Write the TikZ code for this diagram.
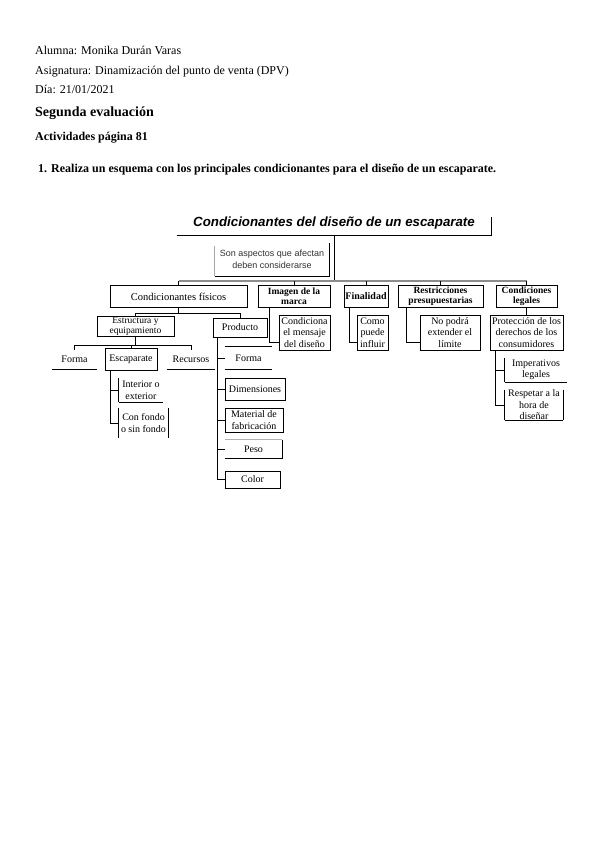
\documentclass[tikz,border=0pt]{standalone}
\usepackage{fontspec}
\setmainfont{Liberation Serif}
\newfontfamily\sansf{Liberation Sans}
\usetikzlibrary{calc}
\tikzset{
  box/.style={draw=black, line width=0.7pt, inner sep=0pt, align=center, font=\fontsize{10}{11.5}\selectfont},
  nobox/.style={inner sep=0pt, align=center, font=\fontsize{10}{11.5}\selectfont},
  topbox/.style={box, font=\fontsize{9.5}{10.2}\selectfont\bfseries},
  link/.style={line width=0.7pt},
  heavy/.style={line width=1.2pt},
  busline/.style={line width=1.8pt, black!45},
  hdr/.style={anchor=base west, inner sep=0pt, font=\fontsize{12}{14}\selectfont},
  hdrb/.style={hdr, font=\fontsize{12}{14}\selectfont\bfseries},
}
\begin{document}
\begin{tikzpicture}[x=1pt,y=-1pt]
\useasboundingbox (0,0) rectangle (600,848);
\fill[white] (0,0) rectangle (600,848);

% header
\node[hdr] (h1) at (35,55) {Alumna: Monika Durán Varas};
\node[hdr] (h2) at (35,75) {Asignatura: Dinamización del punto de venta (DPV)};
\node[hdr] (h3) at (35,94) {Día: 21/01/2021};
\node[hdr, font=\fontsize{14}{16}\selectfont\bfseries] (h4) at (35,117) {Segunda evaluación};
\node[hdrb] (h5) at (35,140) {Actividades página 81};
\node[hdrb] (q) at (38,172) {1. Realiza un esquema con los principales condicionantes para el diseño de un escaparate.};

% title and intro
\node[nobox, font=\sansf\bfseries\itshape\fontsize{13.3}{15}\selectfont, minimum width=314pt, minimum height=23pt] (title) at (334,223.5) {Condicionantes del diseño de un escaparate};
\draw[heavy] (title.south west) -- (title.south east) -- ([yshift=-5pt]title.north east);
\node[nobox, font=\sansf\fontsize{9}{11.5}\selectfont, text=black!80, minimum width=114pt, minimum height=33pt] (son) at (272,259.5) {Son aspectos que afectan\\deben considerarse};
\draw[heavy] (son.south west) -- (son.south east) -- (son.north east);
\draw[link, black!35] (son.south west) -- ([yshift=-3pt]son.north west);

% level 2
\node[box, font=\fontsize{10.5}{11}\selectfont, minimum width=137pt, minimum height=22pt] (fis) at (178.5,296.5) {Condicionantes físicos};
\node[topbox, minimum width=72pt, minimum height=22pt] (ima) at (294,296.5) {Imagen de la\\marca};
\node[topbox, font=\fontsize{10}{11}\selectfont\bfseries, minimum width=44pt, minimum height=22pt] (fin) at (366,296.5) {Finalidad};
\node[topbox, minimum width=85pt, minimum height=22pt] (res) at (440.5,296.5) {Restricciones\\presupuestarias};
\node[topbox, minimum width=61pt, minimum height=22pt] (leg) at (526.5,296.5) {Condiciones\\legales};

% level 3
\node[box, font=\fontsize{9.5}{10}\selectfont, minimum width=77pt, minimum height=20pt] (estr) at (135.5,326.5) {Estructura y\\equipamiento};
\node[box, minimum width=54pt, minimum height=19pt] (prod) at (240,327.5) {Producto};
\node[box, minimum width=51pt, minimum height=35pt] (cond) at (304.5,332.5) {Condiciona\\el mensaje\\del diseño};
\node[box, minimum width=31pt, minimum height=35pt] (como) at (372.5,332.5) {Como\\puede\\influir};
\node[box, minimum width=60pt, minimum height=35pt] (nop) at (450,332.5) {No podrá\\extender el\\límite};
\node[box, minimum width=73pt, minimum height=35pt] (prot) at (526.5,332.5) {Protección de los\\derechos de los\\consumidores};

% level 4 under Estructura
\node[nobox, minimum width=45pt, minimum height=19pt] (formaA) at (74.5,359.5) {Forma};
\draw[heavy] (formaA.south west) -- (formaA.south east);
\node[box, minimum width=52pt, minimum height=22pt] (esc) at (131,359) {Escaparate};
\node[nobox, minimum width=48pt, minimum height=19pt] (recu) at (191,359.5) {Recursos};
\draw[heavy] (recu.south west) -- (recu.south east);

% under Escaparate
\node[nobox, minimum width=44pt, minimum height=24pt] (inte) at (141,390) {Interior o\\exterior};
\draw[link] (inte.north west) -- (inte.south west);
\draw[heavy] (inte.south west) -- (inte.south east);
\node[nobox, minimum width=49pt, minimum height=30pt] (fondo) at (143.5,423) {Con fondo\\o sin fondo};
\draw[link] (fondo.north west) -- (fondo.south west);
\draw[link] (fondo.north east) -- (fondo.south east);

% under Producto
\node[nobox, minimum width=47pt, minimum height=22pt] (formaB) at (248.5,358) {Forma};
\draw[link] (formaB.north west) -- (formaB.north east);
\draw[heavy] (formaB.south west) -- (formaB.south east);
\node[box, minimum width=60pt, minimum height=22pt] (dim) at (255,389) {Dimensiones};
\node[box, minimum width=58pt, minimum height=24pt] (mat) at (254,420) {Material de\\fabricación};
\node[nobox, minimum width=57pt, minimum height=18pt] (peso) at (253.5,449) {Peso};
\draw[link, black!30] (peso.north west) -- (peso.north east);
\draw[heavy] (peso.south west) -- (peso.south east) -- (peso.north east);
\node[box, minimum width=55pt, minimum height=17pt] (color) at (252.5,479.5) {Color};

% under Protección
\node[nobox, minimum width=62pt, minimum height=24pt] (imp) at (536,370) {Imperativos\\legales};
\draw[link] (imp.north west) -- (imp.south west);
\draw[heavy] (imp.south west) -- (imp.south east);
\node[nobox, minimum width=58pt, minimum height=30pt] (resp) at (534,405) {Respetar a la\\hora de\\diseñar};
\draw[link] (resp.north west) -- (resp.south west);
\draw[link] (resp.north east) -- (resp.south east);
\draw[heavy] (resp.south west) -- (resp.south east);

% shadows on full boxes
\foreach \n in {fis,ima,fin,res,leg,estr,prod,cond,como,nop,prot,esc,dim,mat,color}
  \draw[heavy] (\n.south west) -- (\n.south east) -- (\n.north east);

% connectors
\coordinate (busL) at (178.5,281);
\coordinate (busR) at (526.5,281);
\draw[link] (title.south) -- (title.south |- busL);
\draw[busline] (busL) -- (busR);
\foreach \n in {fis,ima,fin,res,leg}
  \draw[link] (\n.north |- busL) -- (\n.north);

\coordinate (b2) at (0,313);
\draw[link] (fis.south) -- (fis.south |- b2);
\draw[link] (estr.north |- b2) -- (prod.north |- b2);
\draw[link] (estr.north |- b2) -- (estr.north);
\draw[link] (prod.north |- b2) -- (prod.north);

\coordinate (b3) at (0,345);
\draw[link] (estr.south) -- (estr.south |- b3);
\draw[link] (formaA.north |- b3) -- (recu.north |- b3);
\foreach \n in {formaA,esc,recu}
  \draw[link] (\n.north |- b3) -- (\n.north);

\coordinate (ev) at ([xshift=6pt]esc.south west);
\draw[link] (ev) |- (fondo.west);
\draw[link] (ev |- inte.west) -- (inte.west);

\coordinate (pv) at ([xshift=5pt]prod.south west);
\draw[link] (pv) |- (color.west);
\foreach \n in {formaB,dim,mat,peso}
  \draw[link] (pv |- \n.west) -- (\n.west);

\coordinate (iv) at ([xshift=12pt]ima.south west);
\draw[link] (iv) |- ([yshift=8pt]cond.south west);
\coordinate (fv) at ([xshift=6pt]fin.south west);
\draw[link] (fv) |- ([yshift=8pt]como.south west);
\coordinate (rv) at ([xshift=9pt]res.south west);
\draw[link] (rv) |- ([yshift=8pt]nop.south west);
\draw[link] (leg.south) -- (prot.north);

\coordinate (lv) at ([xshift=6pt]prot.south west);
\draw[link] (lv) |- (resp.west);
\draw[link] (lv |- imp.west) -- (imp.west);
\end{tikzpicture}
\end{document}
